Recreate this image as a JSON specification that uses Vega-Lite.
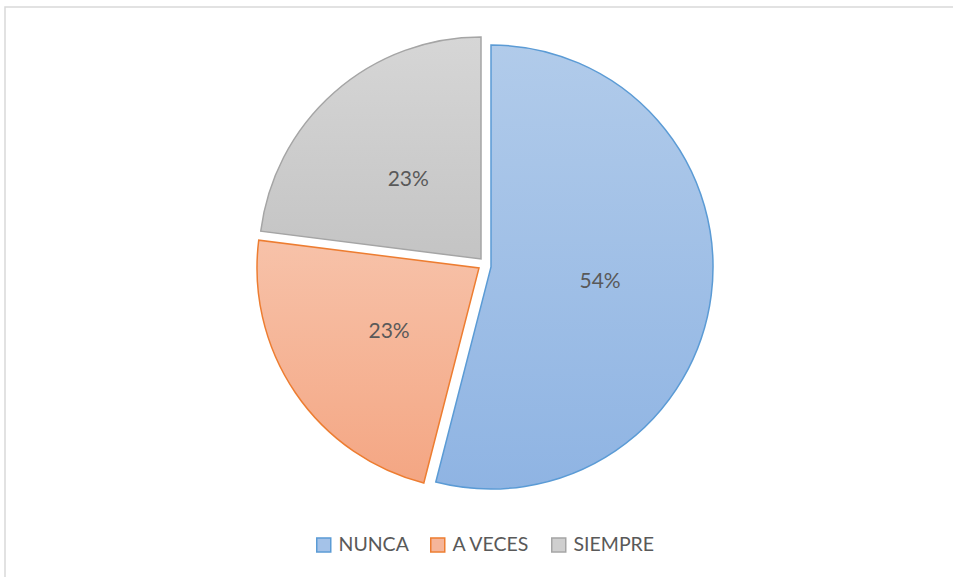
{
  "$schema": "https://vega.github.io/schema/vega-lite/v6.json",
  "width": 950,
  "height": 572,
  "autosize": {"type": "none"},
  "padding": {"left": 5, "top": 7, "right": 0, "bottom": 0},
  "background": "white",
  "view": {"stroke": "#d9d9d9", "strokeWidth": 1.5, "fill": "white"},
  "config": {"font": "Lato"},
  "data": {"values": [
    {"cat": "NUNCA", "share": 0.54, "order": 1},
    {"cat": "A VECES", "share": 0.23, "order": 2},
    {"cat": "SIEMPRE", "share": 0.23, "order": 3}
  ]},
  "layer": [
    {
      "transform": [
        {"stack": "share", "groupby": [], "sort": [{"field": "order", "order": "ascending"}], "as": ["s0", "s1"]},
        {"filter": "datum.cat === 'NUNCA'"}
      ],
      "mark": {"type": "arc", "radius": 222, "xOffset": 11, "yOffset": -26, "stroke": "#5B9BD5", "strokeWidth": 1.5,
        "fill": {"gradient": "linear", "x1": 0, "y1": 0, "x2": 0, "y2": 1, "stops": [{"offset": 0, "color": "#B1CBEA"}, {"offset": 1, "color": "#8FB4E3"}]}},
      "encoding": {
        "theta": {"field": "s0", "type": "quantitative", "scale": {"domain": [0, 1], "range": [0, 6.283185307]}},
        "theta2": {"field": "s1"}
      }
    },
    {
      "transform": [
        {"stack": "share", "groupby": [], "sort": [{"field": "order", "order": "ascending"}], "as": ["s0", "s1"]},
        {"filter": "datum.cat === 'A VECES'"}
      ],
      "mark": {"type": "arc", "radius": 222, "xOffset": -1, "yOffset": -25, "stroke": "#ED7D31", "strokeWidth": 1.5,
        "fill": {"gradient": "linear", "x1": 0, "y1": 0, "x2": 0, "y2": 1, "stops": [{"offset": 0, "color": "#F7C2A9"}, {"offset": 1, "color": "#F4A683"}]}},
      "encoding": {
        "theta": {"field": "s0", "type": "quantitative"},
        "theta2": {"field": "s1"}
      }
    },
    {
      "transform": [
        {"stack": "share", "groupby": [], "sort": [{"field": "order", "order": "ascending"}], "as": ["s0", "s1"]},
        {"filter": "datum.cat === 'SIEMPRE'"}
      ],
      "mark": {"type": "arc", "radius": 222, "xOffset": 1, "yOffset": -34, "stroke": "#A5A5A5", "strokeWidth": 1.5,
        "fill": {"gradient": "linear", "x1": 0, "y1": 0, "x2": 0, "y2": 1, "stops": [{"offset": 0, "color": "#D6D6D6"}, {"offset": 1, "color": "#C4C4C4"}]}},
      "encoding": {
        "theta": {"field": "s0", "type": "quantitative"},
        "theta2": {"field": "s1"}
      }
    },
    {
      "mark": {"type": "text", "radius": 116, "xOffset": 5, "yOffset": -26, "fontSize": 21, "color": "#595959"},
      "encoding": {
        "theta": {"field": "share", "type": "quantitative", "stack": true},
        "order": {"field": "order", "type": "quantitative"},
        "text": {"field": "share", "type": "quantitative", "format": ".0%"}
      }
    },
    {
      "mark": {"type": "point", "shape": "square", "opacity": 0},
      "encoding": {
        "fill": {"field": "cat", "type": "nominal",
          "scale": {"domain": ["NUNCA", "A VECES", "SIEMPRE"], "range": ["#A4C2E8", "#F5B59A", "#CFCFCF"]},
          "legend": {"title": null, "orient": "none", "direction": "horizontal", "legendX": 309, "legendY": 528, "padding": 0,
            "symbolType": "square", "symbolSize": 196, "symbolStrokeWidth": 1.5, "labelFont": "Lato", "labelFontSize": 19.5,
            "labelColor": "#595959", "labelOffset": 5, "columnPadding": 18,
            "encode": {"symbols": {"update": {"opacity": {"value": 1}}}}}},
        "stroke": {"field": "cat", "type": "nominal",
          "scale": {"domain": ["NUNCA", "A VECES", "SIEMPRE"], "range": ["#5B9BD5", "#ED7D31", "#A5A5A5"]},
          "legend": {"title": null, "orient": "none", "direction": "horizontal", "legendX": 309, "legendY": 528, "padding": 0,
            "symbolType": "square", "symbolSize": 196, "symbolStrokeWidth": 1.5, "labelFont": "Lato", "labelFontSize": 19.5,
            "labelColor": "#595959", "labelOffset": 5, "columnPadding": 18,
            "encode": {"symbols": {"update": {"opacity": {"value": 1}}}}}}
      }
    }
  ]
}
